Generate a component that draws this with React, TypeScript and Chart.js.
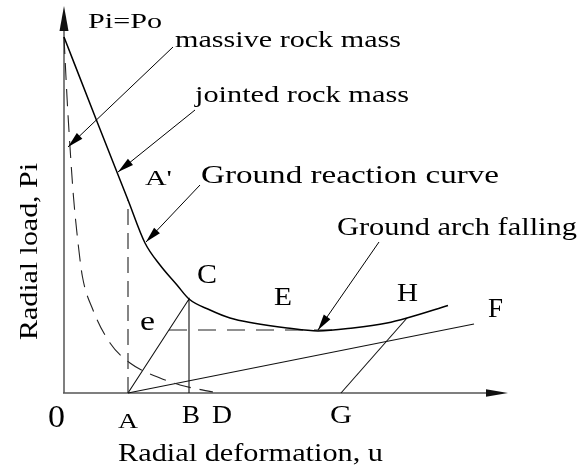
import { useEffect, useRef } from "react";
import { Chart, registerables } from "chart.js";

Chart.register(...registerables);

// Ground reaction curve: radial deformation u against radial load Pi
const grcU = [0, 3.2, 6.4, 8.1, 9.6, 11.3, 12.5, 14.6, 16.6, 18.9, 22.3, 25.4, 28.9, 32.3, 34.3, 38.4];
const grcP = [35.6, 27.4, 19.3, 15.0, 12.8, 10.8, 9.4, 8.3, 7.5, 7.0, 6.5, 6.2, 6.5, 7.0, 7.5, 8.75];

// Massive rock mass response (dashed)
const massU = [0, 0.3, 0.6, 0.95, 1.45, 1.85, 2.9, 4.6, 6.6, 9.6, 11.6, 14.9];
const massP = [35.6, 29.6, 24.6, 19.6, 14.6, 11.6, 8.3, 5.0, 3.0, 1.5, 0.8, 0.1];

// Key points on the deformation axis and the curve
const uA = 6.4;
const pAPrime = 19.3;
const uB = 12.5;
const pC = 9.4;
const uG = 27.7;
const uH = 34.3;
const pH = 7.5;
const uF = 41.0;
const pF = 6.9;
const eLevel = 6.3;
const eStartU = 10.5;
const eEndU = 27.6;

// Axis extents (arrow tips)
const uMax = 44.4;
const pMax = 38.7;

type Label = { text: string; u: number; p: number; size: number; width: number; rotate?: boolean };

const labels: Label[] = [
  { text: "Pi=Po", u: 2.4, p: 36.5, size: 21, width: 74 },
  { text: "massive rock mass", u: 11.1, p: 34.6, size: 23, width: 226 },
  { text: "jointed rock mass", u: 13.1, p: 29.1, size: 23, width: 214 },
  { text: "A'", u: 8.1, p: 20.8, size: 21, width: 27 },
  { text: "Ground reaction curve", u: 13.7, p: 21.0, size: 26, width: 298 },
  { text: "Ground arch falling", u: 27.3, p: 15.8, size: 26, width: 240 },
  { text: "C", u: 13.3, p: 11.0, size: 27, width: 20 },
  { text: "E", u: 21.0, p: 8.8, size: 25, width: 18 },
  { text: "e", u: 7.6, p: 6.3, size: 27, width: 15 },
  { text: "H", u: 33.3, p: 9.2, size: 26, width: 21 },
  { text: "F", u: 42.4, p: 7.6, size: 27, width: 15 },
  { text: "0", u: -1.6, p: -3.4, size: 31, width: 17 },
  { text: "A", u: 5.4, p: -3.5, size: 22, width: 20 },
  { text: "B", u: 11.8, p: -3.0, size: 25, width: 18 },
  { text: "D", u: 14.8, p: -3.0, size: 25, width: 20 },
  { text: "G", u: 26.6, p: -3.0, size: 25, width: 22 },
  { text: "Radial deformation, u", u: 5.4, p: -6.8, size: 25, width: 265 },
  { text: "Radial load, Pi", u: -2.7, p: 5.3, size: 25, width: 177, rotate: true },
];

// Leader arrows: [fromU, fromP, toU, toP]
const leaders: number[][] = [
  [10.9, 34.6, 0.4, 24.6],
  [13.1, 28.3, 5.4, 22.1],
  [13.6, 20.8, 8.2, 15.1],
  [31.5, 15.1, 25.4, 6.3],
];

const pts = (us: number[], ps: number[]) => us.map((u, i) => ({ x: u, y: ps[i] }));

function arrowHead(ctx: CanvasRenderingContext2D, x1: number, y1: number, x2: number, y2: number, len: number, half: number) {
  const a = Math.atan2(y2 - y1, x2 - x1);
  const bx = x2 - len * Math.cos(a);
  const by = y2 - len * Math.sin(a);
  ctx.beginPath();
  ctx.moveTo(x2, y2);
  ctx.lineTo(bx - half * Math.sin(a), by + half * Math.cos(a));
  ctx.lineTo(bx + half * Math.sin(a), by - half * Math.cos(a));
  ctx.closePath();
  ctx.fill();
}

const FONT = '"Liberation Serif", "DejaVu Serif Condensed", "DejaVu Serif", serif';

const axesPlugin = {
  id: "arrowAxes",
  beforeDatasetsDraw(chart: any) {
    const { ctx, scales } = chart;
    const x = scales.x;
    const y = scales.y;
    const x0 = x.getPixelForValue(0);
    const y0 = y.getPixelForValue(0);
    const xt = x.getPixelForValue(uMax);
    const yt = y.getPixelForValue(pMax);
    ctx.save();
    ctx.strokeStyle = "#555";
    ctx.fillStyle = "#111";
    ctx.lineWidth = 1.5;
    ctx.beginPath();
    ctx.moveTo(x0, y0);
    ctx.lineTo(x0, yt + 10);
    ctx.moveTo(x0 - 1, y0);
    ctx.lineTo(xt - 10, y0);
    ctx.stroke();
    arrowHead(ctx, x0, y0, x0, yt, 25, 4.5);
    arrowHead(ctx, x0, y0, xt, y0, 22, 3.8);
    ctx.restore();
  },
  afterDatasetsDraw(chart: any) {
    const { ctx, scales } = chart;
    const px = (u: number) => scales.x.getPixelForValue(u);
    const py = (p: number) => scales.y.getPixelForValue(p);
    ctx.save();
    ctx.strokeStyle = "#000";
    ctx.fillStyle = "#000";
    ctx.lineWidth = 1;
    for (const [u1, p1, u2, p2] of leaders) {
      const x1 = px(u1), y1 = py(p1), x2 = px(u2), y2 = py(p2);
      ctx.beginPath();
      ctx.moveTo(x1, y1);
      ctx.lineTo(x2, y2);
      ctx.stroke();
      arrowHead(ctx, x1, y1, x2, y2, 16, 4);
    }
    ctx.textBaseline = "alphabetic";
    ctx.textAlign = "left";
    for (const l of labels) {
      ctx.save();
      ctx.font = `${l.size}px ${FONT}`;
      const w = ctx.measureText(l.text).width;
      ctx.translate(px(l.u), py(l.p));
      if (l.rotate) ctx.rotate(-Math.PI / 2);
      ctx.scale(l.width / w, 1);
      ctx.fillText(l.text, 0, 0);
      ctx.restore();
    }
    ctx.restore();
  },
};

export default function App() {
  const ref = useRef<HTMLCanvasElement>(null);

  useEffect(() => {
    const thin = { borderColor: "#111", borderWidth: 1.1, pointRadius: 0, showLine: true, clip: false as any };
    const dashed = { borderColor: "#222", borderWidth: 1.1, borderDash: [17, 9], pointRadius: 0, showLine: true, clip: false as any };
    const chart = new Chart(ref.current as HTMLCanvasElement, {
      type: "scatter",
      data: {
        datasets: [
          {
            label: "Ground reaction curve",
            data: pts(grcU, grcP),
            borderColor: "#000",
            borderWidth: 1.5,
            pointRadius: 0,
            showLine: true,
            cubicInterpolationMode: "monotone",
            clip: false as any,
          },
          {
            label: "massive rock mass",
            data: pts(massU, massP),
            ...dashed,
            cubicInterpolationMode: "monotone",
          },
          { label: "A-A'", data: pts([uA, uA], [0, pAPrime]), ...dashed, borderDash: [16, 8] },
          { label: "A-C-B", data: pts([uA, uB, uB], [0, pC, 0]), ...thin },
          { label: "e", data: pts([eStartU, eEndU], [eLevel, eLevel]), ...dashed, borderDash: [18, 11] },
          { label: "A-F", data: pts([uA, uF], [0, pF]), ...thin },
          { label: "G-H", data: pts([uG, uH], [0, pH]), ...thin },
        ],
      },
      options: {
        responsive: false,
        animation: false,
        events: [],
        layout: { padding: { left: 64, right: 76, top: 6, bottom: 75 } },
        plugins: { legend: { display: false }, tooltip: { enabled: false } },
        scales: {
          x: { type: "linear", min: 0, max: uMax, display: false },
          y: { type: "linear", min: 0, max: pMax, display: false },
        },
      },
      plugins: [axesPlugin],
    });
    return () => chart.destroy();
  }, []);

  return (
    <div style={{ position: "absolute", left: 0, top: 0, width: 584, height: 468, background: "#fff" }}>
      <canvas ref={ref} width={584} height={468} style={{ display: "block" }} />
    </div>
  );
}
